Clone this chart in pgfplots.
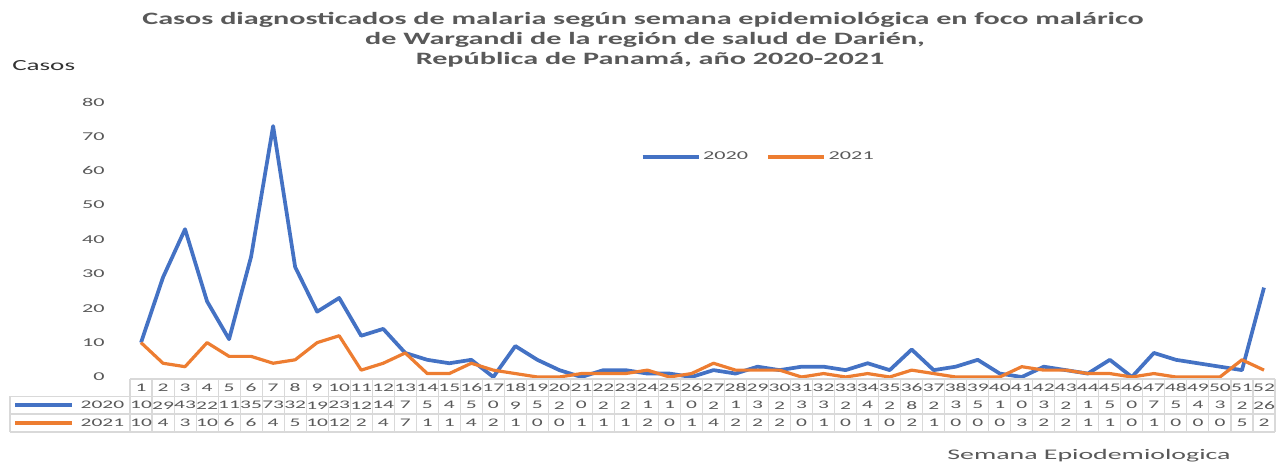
\documentclass[border=0pt]{standalone}
\usepackage{fontspec}
\setmainfont{Carlito}
\newfontfamily\numfont[FakeStretch=1.85]{Carlito}
\newfontfamily\titfont[FakeStretch=1.74]{Carlito}
\newfontfamily\labfont[FakeStretch=1.75]{Carlito}
\newfontfamily\xlabfont[FakeStretch=1.9]{Carlito}
\usepackage{pgfplots}
\usepackage{pgfplotstable}
\pgfplotsset{compat=1.18}

\definecolor{azul}{HTML}{4472C4}
\definecolor{naranja}{HTML}{ED7D31}
\definecolor{txt}{HTML}{595959}
\definecolor{rejilla}{HTML}{D9D9D9}

% semana, 2020, 2021
\pgfplotstableread{
w a b
1 10 10
2 29 4
3 43 3
4 22 10
5 11 6
6 35 6
7 73 4
8 32 5
9 19 10
10 23 12
11 12 2
12 14 4
13 7 7
14 5 1
15 4 1
16 5 4
17 0 2
18 9 1
19 5 0
20 2 0
21 0 1
22 2 1
23 2 1
24 1 2
25 1 0
26 0 1
27 2 4
28 1 2
29 3 2
30 2 2
31 3 0
32 3 1
33 2 0
34 4 1
35 2 0
36 8 2
37 2 1
38 3 0
39 5 0
40 1 0
41 0 3
42 3 2
43 2 2
44 1 1
45 5 1
46 0 0
47 7 1
48 5 0
49 4 0
50 3 0
51 2 5
52 26 2
}\datos

\newcommand{\nf}{\numfont\fontsize{8.7}{10}\selectfont}
\newcommand{\tf}{\numfont\fontsize{9}{10}\selectfont}

\begin{document}
\begin{tikzpicture}
\useasboundingbox (0,0) rectangle (960pt,345.75pt);
\begin{axis}[
  at={(97.5pt,63pt)}, anchor=south west,
  scale only axis, width=858.75pt, height=206.25pt,
  xmin=0.5, xmax=52.5, ymin=0, ymax=80,
  clip=false,
  axis line style={draw=none},
  major tick length=0pt,
  xtick=\empty,
  ytick={0,10,...,80},
  /pgf/number format/assume math mode=true,
  yticklabel style={font=\tf, text=txt, inner sep=0pt, anchor=east, xshift=-18.75pt},
  legend columns=2,
  legend style={at={(0.549,0.8)}, anchor=center, draw=none, fill=none,
    font=\tf, text=txt, /tikz/every even column/.append style={column sep=12pt}},
  legend image code/.code={\draw[#1] (0pt,0pt) -- (42pt,0pt);},
]
\addplot[azul, line width=2.8pt, line join=round] table[x=w, y=a] {\datos};
\addplot[naranja, line width=2.4pt, line join=round] table[x=w, y=b] {\datos};
\legend{2020,2021}

% table grid
\draw[rejilla, line width=0.8pt] (axis cs:0.5,-0.58) -- (axis cs:52.5,-0.58);
\draw[rejilla, line width=0.8pt] (axis cs:-4.95,-5.67) -- (axis cs:52.5,-5.67);
\draw[rejilla, line width=0.8pt] (axis cs:-4.95,-10.76) -- (axis cs:52.5,-10.76);
\draw[rejilla, line width=0.8pt] (axis cs:-4.95,-16) -- (axis cs:52.5,-16);
\draw[rejilla, line width=0.8pt] (axis cs:-4.95,-5.67) -- (axis cs:-4.95,-16);
\pgfplotsinvokeforeach{0,...,52}{
  \draw[rejilla, line width=0.8pt] (axis cs:#1+0.5,-0.58) -- (axis cs:#1+0.5,-16);
}
% row headers
\draw[azul, line width=2.8pt] (axis cs:-4.72,-8.22) -- (axis cs:-2.13,-8.22);
\draw[naranja, line width=2.8pt] (axis cs:-4.72,-13.4) -- (axis cs:-2.13,-13.4);
\node[anchor=east, font=\nf, text=txt, inner sep=0pt] at (axis cs:0.25,-8.22) {2020};
\node[anchor=east, font=\nf, text=txt, inner sep=0pt] at (axis cs:0.25,-13.4) {2021};

% table values
\addplot[draw=none, forget plot, nodes near coords, point meta=explicit symbolic,
  nodes near coords align=center,
  every node near coord/.append style={font=\nf, text=txt, inner sep=0pt}]
  table[x=w, y expr=-3.13, meta=w] {\datos};
\addplot[draw=none, forget plot, nodes near coords, point meta=explicit symbolic,
  nodes near coords align=center,
  every node near coord/.append style={font=\nf, text=txt, inner sep=0pt}]
  table[x=w, y expr=-8.22, meta=a] {\datos};
\addplot[draw=none, forget plot, nodes near coords, point meta=explicit symbolic,
  nodes near coords align=center,
  every node near coord/.append style={font=\nf, text=txt, inner sep=0pt}]
  table[x=w, y expr=-13.4, meta=b] {\datos};
\end{axis}

\begin{scope}[x=0.75pt, y=0.75pt]
\node[anchor=base, text=txt, inner sep=0pt,
  font=\titfont\bfseries\fontsize{13}{15}\selectfont] at (643,436)
  {Casos diagnosticados de malaria según semana epidemiológica en foco malárico};
\node[anchor=base, text=txt, inner sep=0pt,
  font=\titfont\bfseries\fontsize{13}{15}\selectfont] at (645,416)
  {de Wargandi de la región de salud de Darién,};
\node[anchor=base, text=txt, inner sep=0pt,
  font=\titfont\bfseries\fontsize{13}{15}\selectfont] at (650,396)
  {República de Panamá, año 2020-2021};
\node[anchor=base west, text=black!80, inner sep=0pt,
  font=\labfont\fontsize{11.6}{14}\selectfont] at (12,390) {Casos};
\node[anchor=base, text=txt, inner sep=0pt,
  font=\xlabfont\fontsize{11}{12}\selectfont] at (1089,1.5) {Semana Epiodemiologica};
\end{scope}
\end{tikzpicture}
\end{document}
